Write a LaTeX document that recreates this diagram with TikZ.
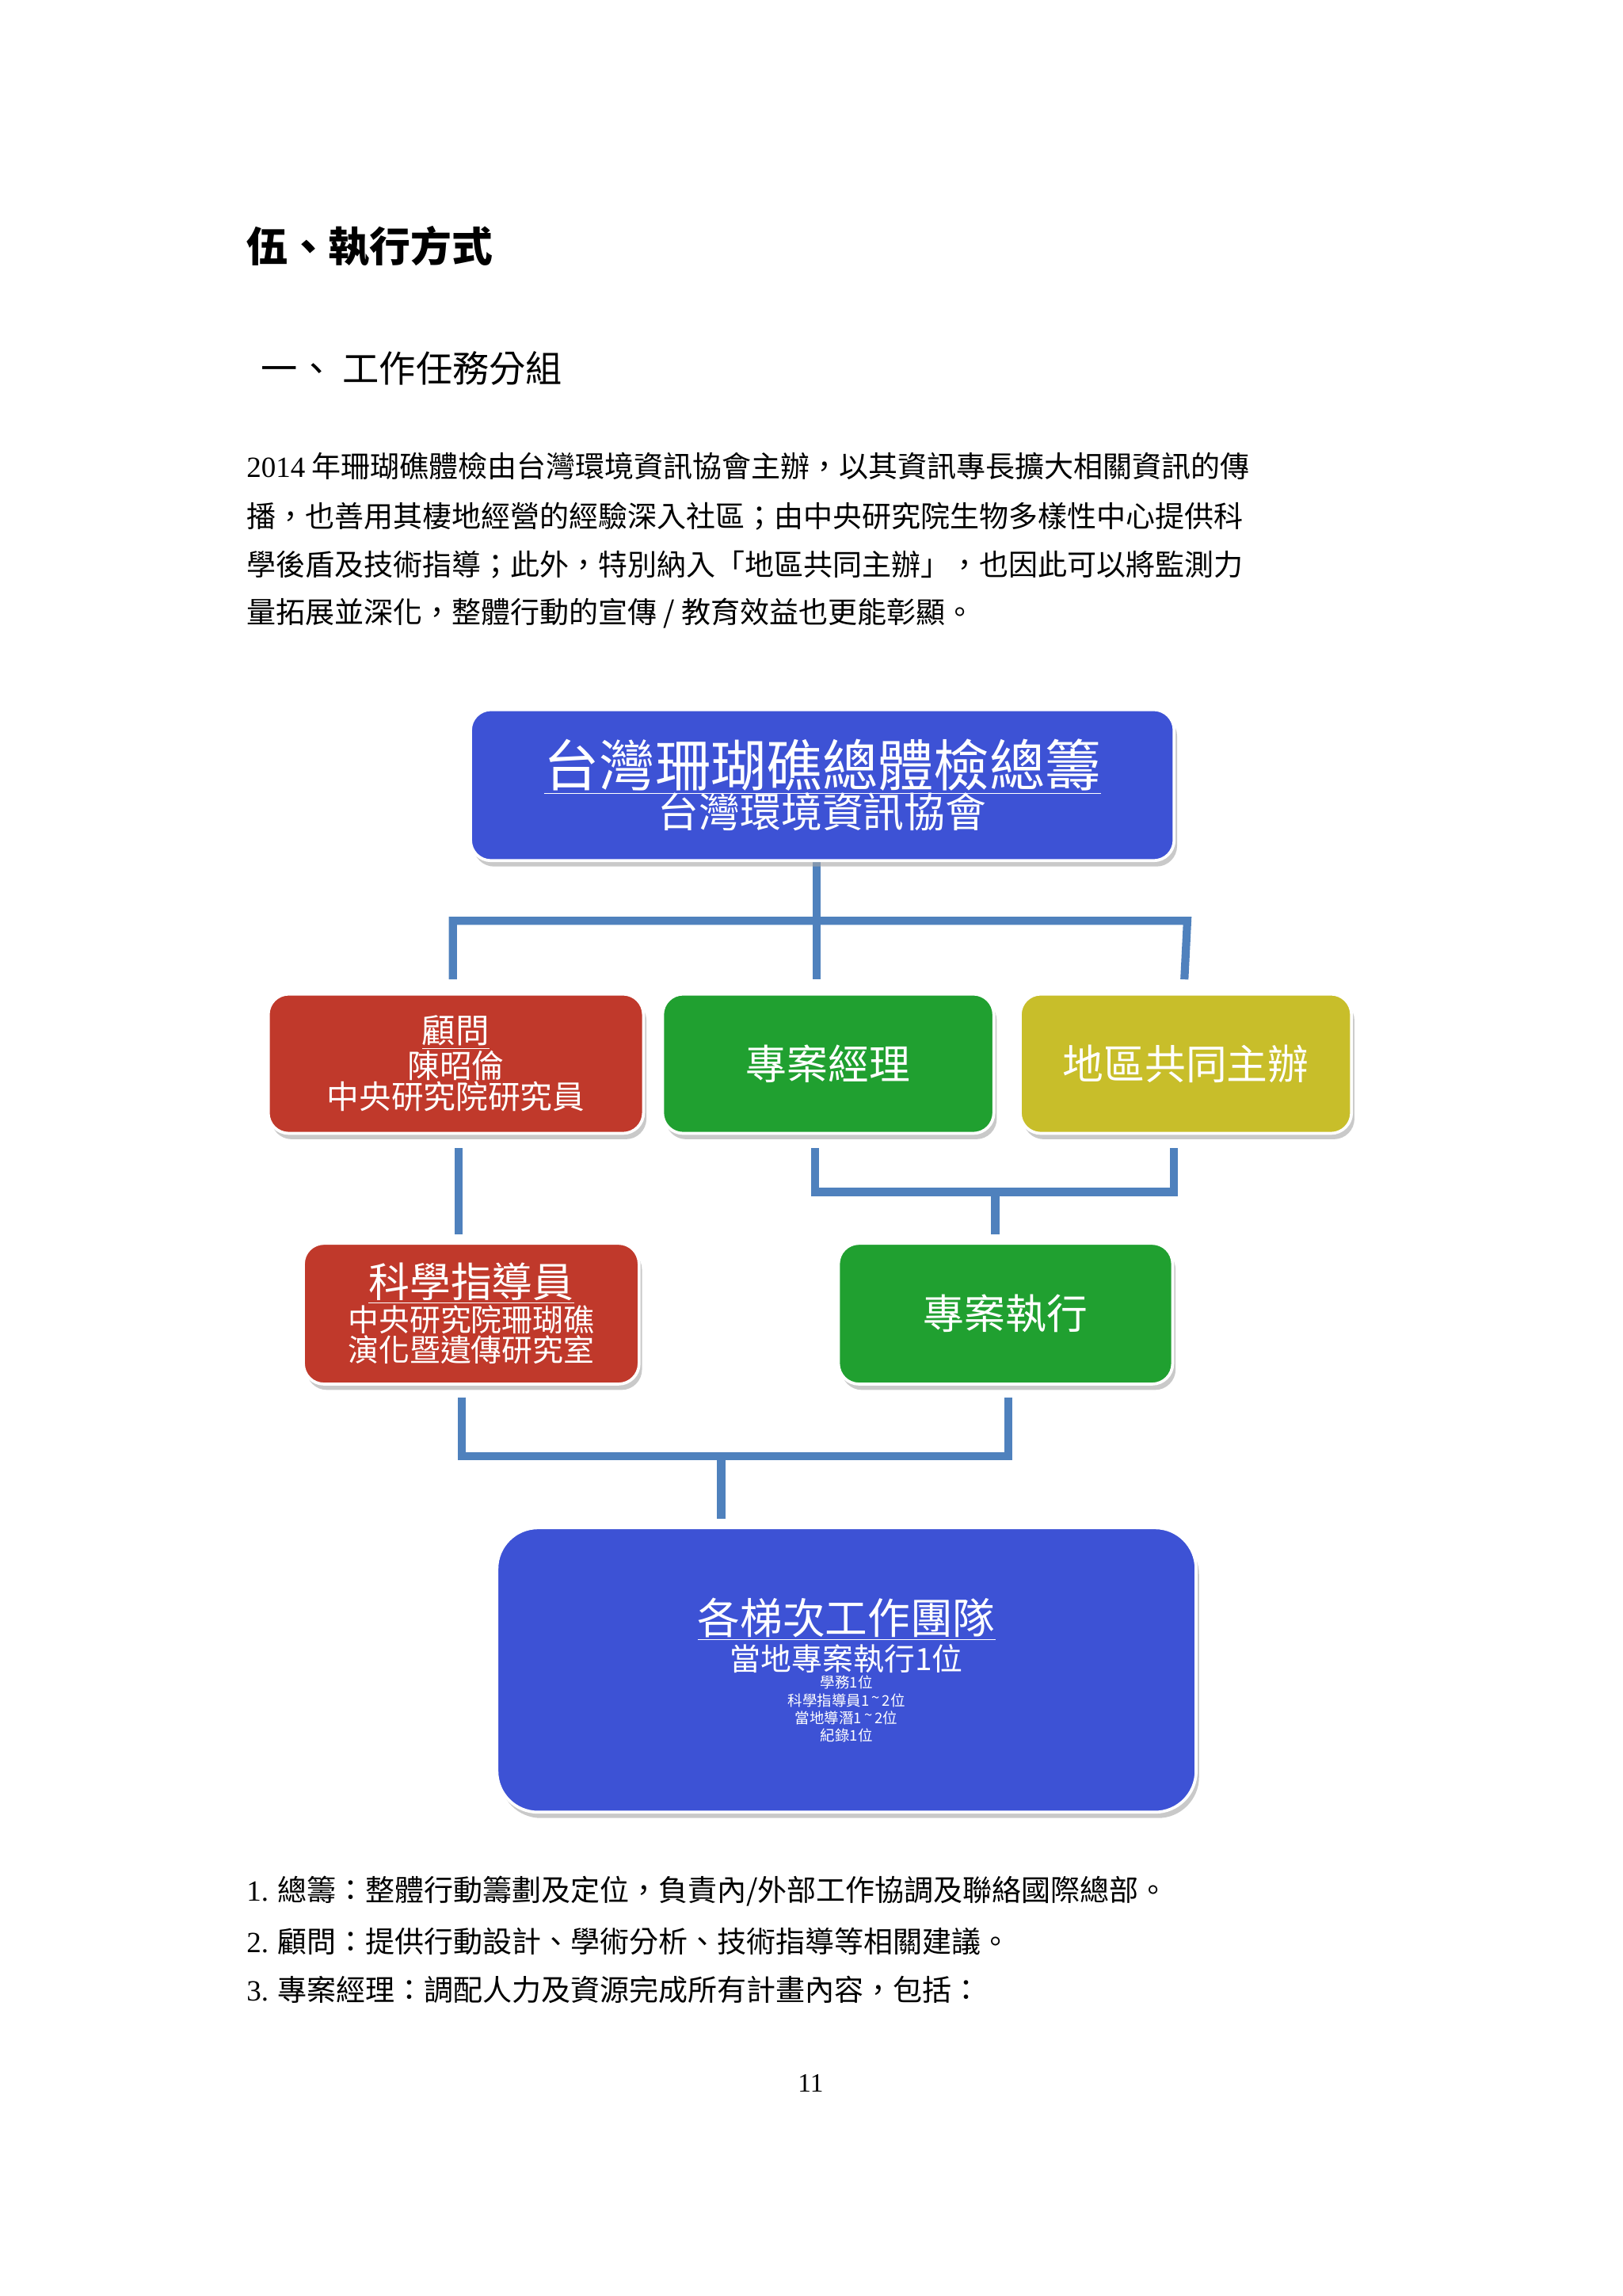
\documentclass[tikz,border=0pt]{standalone}
\usepackage{fontspec}
\setmainfont{Liberation Serif}
\newfontfamily\cjk{Noto Sans CJK TC}
\usetikzlibrary{shadows}
\definecolor{cblue}{HTML}{3D52D5}
\definecolor{cred}{HTML}{C0392B}
\definecolor{cgreen}{HTML}{20A030}
\definecolor{cyel}{HTML}{C8BE2A}
\definecolor{cline}{HTML}{4F81BD}
\begin{document}
\begin{tikzpicture}[x=1pt,y=-1pt,
 box/.style={draw=white,line width=2pt,rounded corners=14pt,text=white,align=center,inner sep=0pt,
   drop shadow={shadow xshift=2pt,shadow yshift=-4pt,fill=black!35,opacity=.6},font=\cjk},
 conn/.style={draw=cline,line width=5.5pt},
 body/.style={anchor=west,inner sep=0pt,font=\fontsize{20}{24}\selectfont\cjk}]
\useasboundingbox (0,0) rectangle (1107,1566);
\fill[white] (0,0) rectangle (1107,1566);
\node[anchor=west,inner sep=0pt,font=\fontsize{28}{32}\selectfont\cjk\bfseries] (h1) at (168,168) {伍、執行方式};
\node[anchor=west,inner sep=0pt,font=\fontsize{25}{30}\selectfont\cjk] (h2) at (178,251) {一、 工作任務分組};
\node[body] (p1) at (168,318) {{\rmfamily 2014} 年珊瑚礁體檢由台灣環境資訊協會主辦，以其資訊專長擴大相關資訊的傳};
\node[body] (p2) at (168,352) {播，也善用其棲地經營的經驗深入社區；由中央研究院生物多樣性中心提供科};
\node[body] (p3) at (168,385) {學後盾及技術指導；此外，特別納入「地區共同主辦」，也因此可以將監測力};
\node[body] (p4) at (168,418) {量拓展並深化，整體行動的宣傳 / 教育效益也更能彰顯。};
% connectors
\coordinate (a1) at (557,587); \coordinate (a2) at (557,668);
\coordinate (b1) at (309,628); \coordinate (b2) at (810,628);
\coordinate (b3) at (309,668); \coordinate (b4) at (808,668); \coordinate (b5) at (808,628);
\draw[conn] (a1) -- (a2);
\draw[conn] (b3) |- (b2) -- (b4);
\coordinate (c1) at (313,783); \coordinate (c2) at (313,842);
\draw[conn] (c1) -- (c2);
\coordinate (d1) at (556,783); \coordinate (d2) at (801,783); \coordinate (d3) at (679,813); \coordinate (d4) at (679,842);
\draw[conn] (d1) |- (d3) -| (d2);
\draw[conn] (d3) -- (d4);
\coordinate (e1) at (315,953); \coordinate (e2) at (688,953); \coordinate (e3) at (492,993); \coordinate (e4) at (492,1036);
\draw[conn] (e1) |- (e3) -| (e2);
\draw[conn] (e3) -- (e4);
% boxes
\node[box,fill=cblue,minimum width=480pt,minimum height=103pt] (top) at (561,535.5)
 {{\fontsize{38}{44}\selectfont\underline{台灣珊瑚礁總體檢總籌}}\\[-2pt]{\fontsize{28}{32}\selectfont 台灣環境資訊協會}};
\node[box,fill=cred,minimum width=256pt,minimum height=95pt] (gw) at (311,725.5)
 {{\fontsize{23}{27}\selectfont\underline{顧問}}\\{\fontsize{22}{27}\selectfont 陳昭倫}\\{\fontsize{22}{27}\selectfont 中央研究院研究員}};
\node[box,fill=cgreen,minimum width=226pt,minimum height=95pt,font=\fontsize{28}{32}\selectfont\cjk] (pm) at (565,725.5) {專案經理};
\node[box,fill=cyel,minimum width=226pt,minimum height=95pt,font=\fontsize{28}{32}\selectfont\cjk] (co) at (809,725.5) {地區共同主辦};
\node[box,fill=cred,minimum width=229pt,minimum height=96pt] (sci) at (321.5,896)
 {{\fontsize{28}{32}\selectfont\underline{科學指導員}}\\{\fontsize{21}{26}\selectfont 中央研究院珊瑚礁}\\{\fontsize{21}{26}\selectfont 演化暨遺傳研究室}};
\node[box,fill=cgreen,minimum width=228pt,minimum height=96pt,font=\fontsize{28}{32}\selectfont\cjk] (ex) at (686,896) {專案執行};
\node[box,fill=cblue,minimum width=477pt,minimum height=194pt,rounded corners=28pt] (team) at (577.5,1139)
 {{\fontsize{29}{33}\selectfont\underline{各梯次工作團隊}}\\[2pt]
  \fontsize{21}{27.5}\selectfont 當地專案執行1位\\學務1位\\科學指導員1\,\raisebox{2pt}{\textasciitilde}\,2位\\當地導潛1\,\raisebox{2pt}{\textasciitilde}\,2位\\紀錄1位};
\node[body] (l1) at (168,1290) {{\rmfamily 1.} 總籌：整體行動籌劃及定位，負責內/外部工作協調及聯絡國際總部。};
\node[body] (l2) at (168,1324) {{\rmfamily 2.} 顧問：提供行動設計、學術分析、技術指導等相關建議。};
\node[body] (l3) at (168,1357) {{\rmfamily 3.} 專案經理：調配人力及資源完成所有計畫內容，包括：};
\node[inner sep=0pt,font=\fontsize{18}{20}\selectfont] (pg) at (553,1421) {11};
\end{tikzpicture}
\end{document}
